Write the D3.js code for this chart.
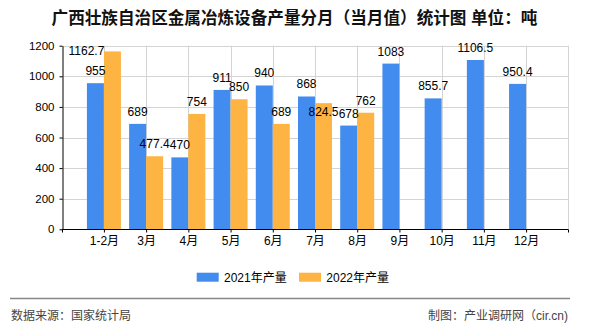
<!DOCTYPE html>
<html><head><meta charset="utf-8">
<script src="https://cdn.jsdelivr.net/npm/d3@7"></script>
<style>body{margin:0;background:#fff}svg{display:block}</style>
</head><body>
<script>
const categories = ["1-2月","3月","4月","5月","6月","7月","8月","9月","10月","11月","12月"];
const series2021 = [955,689,470,911,940,868,678,1083,855.7,1106.5,950.4];
const series2022 = [1162.7,477.4,754,850,689,824.5,762,null,null,null,null];
const seriesNames = ["2021年产量","2022年产量"];
const yTicks = [0,200,400,600,800,1000,1200];
const title = "广西壮族自治区金属冶炼设备产量分月（当月值）统计图 单位：吨";
const sourceText = "数据来源：国家统计局";
const makerText = "制图：产业调研网（cir.cn)";

const W=590,H=330;
const colors=["#418cee","#fdb443"];
const FONT='"Liberation Sans","Noto Sans CJK SC",sans-serif';
const svg=d3.select("body").append("svg").attr("width",W).attr("height",H).style("font-family",FONT);
const ml=61.7, mr=568.3, mt=45.7, mb=229.3;
const x=d3.scalePoint().domain(categories).range([ml,mr]).padding(1);
const step=x.step();
const y=d3.scaleLinear().domain([0,1200]).range([mb,mt]);
const barW=17;
const sub=d3.scaleBand().domain([0,1]).range([-barW,barW]);

// grid
const g=svg.append("g");
g.selectAll(".hg").data(yTicks.filter(d=>d>0)).join("line")
 .attr("x1",ml).attr("x2",mr).attr("y1",d=>Math.round(y(d))+0.5).attr("y2",d=>Math.round(y(d))+0.5)
 .attr("stroke","#d4d4d4");
const vLines=categories.map(c=>x(c)).concat([mr]);
g.selectAll(".vg").data(vLines).join("line")
 .attr("x1",d=>Math.round(d)+0.5).attr("x2",d=>Math.round(d)+0.5).attr("y1",mt).attr("y2",mb)
 .attr("stroke","#d4d4d4");

// bars
const data=[series2021,series2022];
data.forEach((s,si)=>{
  svg.append("g").selectAll("rect").data(categories.map((c,i)=>({c,v:s[i]})).filter(d=>d.v!=null)).join("rect")
   .attr("x",d=>x(d.c)+sub(si)).attr("width",sub.bandwidth())
   .attr("y",d=>y(d.v)).attr("height",d=>y(0)-y(d.v)).attr("fill",colors[si]);
});

// axes
const yAxis=svg.append("g").attr("transform",`translate(${Math.round(ml)+0.5},0)`)
 .call(d3.axisLeft(y).tickValues(yTicks).tickFormat(d3.format("d")).tickSize(3).tickSizeOuter(0).tickPadding(5));
yAxis.select(".domain").attr("stroke","#000");
yAxis.selectAll("text").style("font-size","11.5px").attr("fill","#000").style("font-family",FONT);
const xAxis=svg.append("g").attr("transform",`translate(0,${Math.round(mb)+0.5})`)
 .call(d3.axisBottom(x).tickSize(3).tickSizeOuter(0).tickPadding(4));
xAxis.select(".domain").attr("d",`M${ml},0H${mr}`).attr("stroke","#000");
xAxis.selectAll("text").style("font-size","12px").attr("fill","#000").style("font-family",FONT);
xAxis.append("line").attr("x1",Math.round(ml)+0.5).attr("x2",Math.round(ml)+0.5).attr("y1",0).attr("y2",3).attr("stroke","#000");
xAxis.append("line").attr("x1",Math.round(mr)+0.5).attr("x2",Math.round(mr)+0.5).attr("y1",0).attr("y2",3).attr("stroke","#000");

// value labels
const nudge={"1|0":[-26,12],"1|5":[0,20.5]};
data.forEach((s,si)=>{
  svg.append("g").selectAll("text").data(categories.map((c,i)=>({c,v:s[i],i})).filter(d=>d.v!=null)).join("text")
   .attr("x",d=>x(d.c)+sub(si)+sub.bandwidth()/2+((nudge[si+"|"+d.i]||[0,0])[0]))
   .attr("y",d=>y(d.v)-8+((nudge[si+"|"+d.i]||[0,0])[1]))
   .attr("text-anchor","middle").style("font-size","12px").attr("fill","#000")
   .text(d=>d.v);
});

// title
svg.append("text").attr("x",294.5).attr("y",24).attr("text-anchor","middle")
 .style("font-size","16.6px").style("font-weight","bold").attr("fill","#111").text(title);

// legend
const leg=[{x:196.7},{x:299}];
leg.forEach((l,i)=>{
  svg.append("rect").attr("x",l.x).attr("y",272.7).attr("width",22).attr("height",9).attr("fill",colors[i]);
  svg.append("text").attr("x",l.x+27.3).attr("y",282).style("font-size","12px").attr("fill","#000").text(seriesNames[i]);
});

// footer
svg.append("line").attr("x1",10).attr("x2",570).attr("y1",298.5).attr("y2",298.5).attr("stroke","#888").attr("stroke-width",1.5);
svg.append("text").attr("x",11).attr("y",320).style("font-size","12px").attr("fill","#444").text(sourceText);
svg.append("text").attr("x",568).attr("y",320).attr("text-anchor","end").style("font-size","12px").attr("fill","#444").text(makerText);
</script>
</body></html>
